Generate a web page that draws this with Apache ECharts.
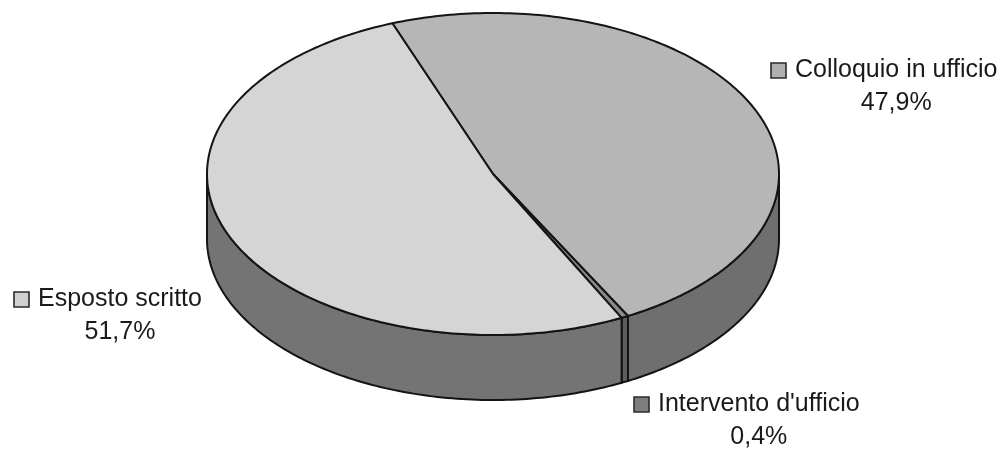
<!DOCTYPE html>
<html>
<head>
<meta charset="utf-8">
<script src="https://cdn.jsdelivr.net/npm/echarts@6/dist/echarts.min.js"></script>
<style>
html, body { margin: 0; padding: 0; background: #fff; }
#chart { width: 1005px; height: 449px; }
</style>
</head>
<body>
<div id="chart"></div>
<script>
// Data
const categories = ['Colloquio in ufficio', "Intervento d'ufficio", 'Esposto scritto']
const values = [47.9, 0.4, 51.7]

// Styles
const topColors = ['#b6b6b6', '#8a8a8a', '#d5d5d5']
const sideColors = ['#6f6f6f', '#5e5e5e', '#747474']
const keyColors = ['#b0b0b0', '#7e7e7e', '#d0d0d0']
const FONT = '"Liberation Sans", Arial, sans-serif'
const FONT_SIZE = 25

// Layout of the 3D pie (ellipse + wall depth), start angle clockwise from 12 o'clock
const pie = { cx: 493, cy: 174, rx: 286, ry: 161, depth: 65, startAngle: -20.6 }
// left edge of name text / vertical centre of name line, per category
const labelAt = [[795, 70], [658, 404], [38, 299]]

const total = values.reduce((a, b) => a + b, 0)
const measureCtx = document.createElement('canvas').getContext('2d')
measureCtx.font = FONT_SIZE + 'px ' + FONT

const pt = (deg, dy) => {
  const r = deg * Math.PI / 180
  return [pie.cx + pie.rx * Math.sin(r), pie.cy - pie.ry * Math.cos(r) + (dy || 0)]
}
const arc = (a1, a2, dy) => {
  const n = Math.max(2, Math.ceil(Math.abs(a2 - a1)))
  const out = []
  for (let i = 0; i <= n; i++) out.push(pt(a1 + (a2 - a1) * i / n, dy))
  return out
}

function renderItem(params, api) {
  const i = params.dataIndex
  let cum = 0
  for (let k = 0; k < i; k++) cum += values[k]
  const a1 = pie.startAngle + 360 * cum / total
  const a2 = pie.startAngle + 360 * (cum + api.value(0)) / total
  const children = []

  // visible front wall (angles 90..270 face the viewer)
  ;[-360, 0, 360].forEach((off) => {
    const s = Math.max(a1, 90 + off)
    const e = Math.min(a2, 270 + off)
    if (e > s) {
      const top = arc(s, e, 0)
      const bot = arc(e, s, pie.depth)
      children.push({
        type: 'polygon',
        shape: { points: top.concat(bot) },
        style: { fill: sideColors[i], stroke: '#141414', lineWidth: 2, lineJoin: 'round' },
      })
    }
  })

  // top face
  children.push({
    type: 'polygon',
    shape: { points: [[pie.cx, pie.cy]].concat(arc(a1, a2, 0)) },
    style: { fill: topColors[i], stroke: '#141414', lineWidth: 2, lineJoin: 'round' },
  })

  // label with legend key
  const [lx, ly] = labelAt[i]
  const name = categories[i]
  const w = measureCtx.measureText(name).width
  children.push({
    type: 'rect',
    shape: { x: lx - 24, y: ly - 7, width: 15, height: 15 },
    style: { fill: keyColors[i], stroke: '#2a2a2a', lineWidth: 1.6 },
  })
  children.push({
    type: 'text',
    x: lx, y: ly,
    style: { text: name, fill: '#1a1a1a', font: FONT_SIZE + 'px ' + FONT, textAlign: 'left', textVerticalAlign: 'middle' },
  })
  children.push({
    type: 'text',
    x: lx + w / 2, y: ly + 33,
    style: {
      text: api.value(0).toFixed(1).replace('.', ',') + '%',
      fill: '#1a1a1a', font: FONT_SIZE + 'px ' + FONT, textAlign: 'center', textVerticalAlign: 'middle',
    },
  })
  return { type: 'group', children }
}

const chart = echarts.init(document.getElementById('chart'))
chart.setOption({
  animation: false,
  series: [{
    type: 'custom',
    coordinateSystem: 'none',
    renderItem,
    silent: true,
    data: values.map((v, i) => ({ name: categories[i], value: [v] })),
  }],
})
</script>
</body>
</html>
